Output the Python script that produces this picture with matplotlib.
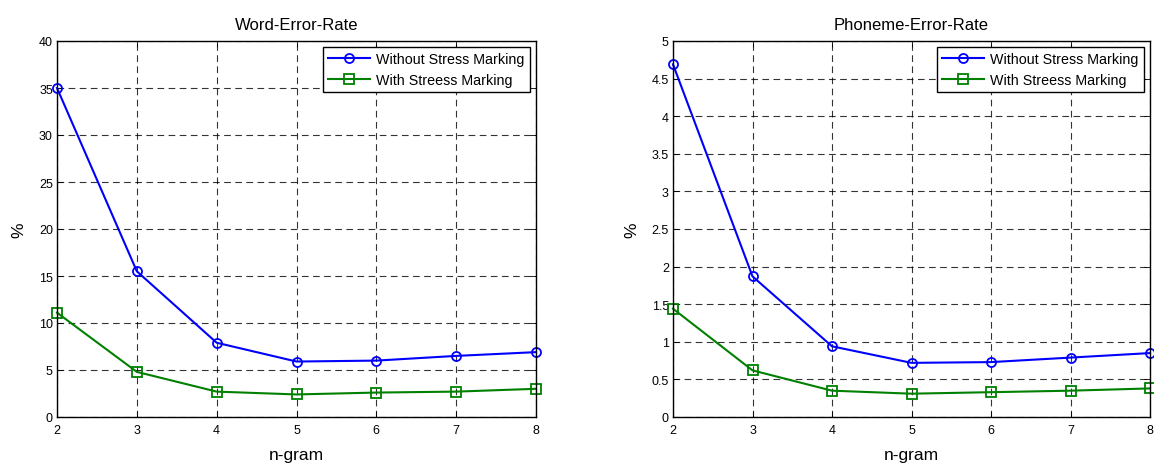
import matplotlib
matplotlib.use("Agg")
import matplotlib.pyplot as plt

plt.rcParams['font.family'] = ['Liberation Sans', 'DejaVu Sans']

ngram = [2, 3, 4, 5, 6, 7, 8]
wer_without = [35.0, 15.5, 7.9, 5.9, 6.0, 6.5, 6.9]
wer_with = [11.1, 4.8, 2.7, 2.4, 2.6, 2.7, 3.0]
per_without = [4.69, 1.87, 0.94, 0.72, 0.73, 0.79, 0.85]
per_with = [1.44, 0.62, 0.35, 0.31, 0.33, 0.35, 0.38]
labels = ["Without Stress Marking", "With Streess Marking"]
W, H = 1154, 464

fig = plt.figure(figsize=(W / 100, H / 100), dpi=100)

def make_ax(x0, x1, y0, y1):
    return fig.add_axes([x0 / W, 1 - y1 / H, (x1 - x0) / W, (y1 - y0) / H])

def style(ax, title, ymax, yticks):
    ax.set_xlim(2, 8)
    ax.set_ylim(0, ymax)
    ax.set_xticks(ngram)
    ax.set_yticks(yticks)
    ax.set_yticklabels([f"{t:g}" for t in yticks])
    ax.grid(True, color='black', linestyle=(0, (6, 4)), linewidth=0.8, alpha=0.8)
    ax.tick_params(direction='in', top=True, right=True, labelsize=9, length=4, width=0.6)
    ax.tick_params(axis='x', pad=5)
    ax.tick_params(axis='y', pad=3)
    for s in ax.spines.values():
        s.set_linewidth(1.0)
    ax.set_title(title, fontsize=12, pad=9)
    ax.set_xlabel("n-gram", fontsize=12.5, labelpad=8)
    ax.set_ylabel("%", fontsize=12.5, labelpad=9)
    leg = ax.legend(loc='upper right', fontsize=10.3, frameon=True, fancybox=False,
                    edgecolor='black', framealpha=1, borderaxespad=0.45,
                    handlelength=3.0, handletextpad=0.4, borderpad=0.35, labelspacing=0.45)
    leg.get_frame().set_linewidth(1.0)

mk = dict(markersize=6.5, mfc='none', mew=1.3, lw=1.5, clip_on=False)

ax1 = make_ax(57, 536, 42, 418)
ax1.plot(ngram, wer_without, color='#0000ff', marker='o', label=labels[0], **mk)
ax1.plot(ngram, wer_with, color='#008000', marker='s', label=labels[1], **mk)
style(ax1, "Word-Error-Rate", 40, [0, 5, 10, 15, 20, 25, 30, 35, 40])

ax2 = make_ax(673, 1150, 42, 418)
ax2.plot(ngram, per_without, color='#0000ff', marker='o', label=labels[0], **mk)
ax2.plot(ngram, per_with, color='#008000', marker='s', label=labels[1], **mk)
style(ax2, "Phoneme-Error-Rate", 5, [0, 0.5, 1, 1.5, 2, 2.5, 3, 3.5, 4, 4.5, 5])

fig.savefig("out.png", dpi=100)
